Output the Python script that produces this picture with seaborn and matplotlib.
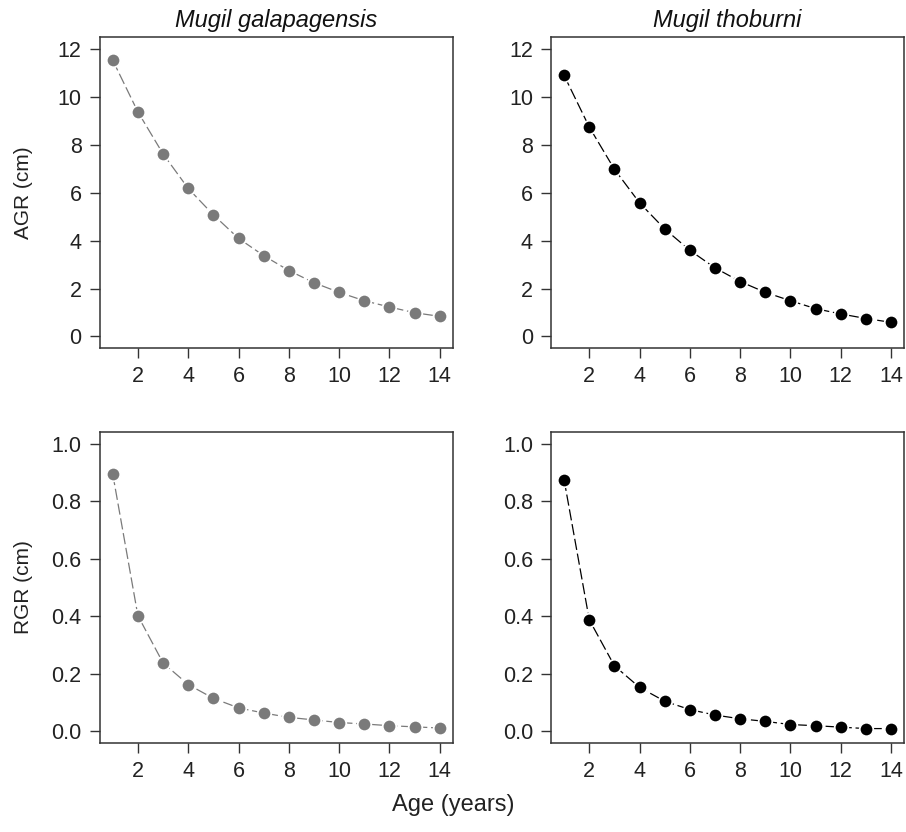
import numpy as np
import pandas as pd
import seaborn as sns
import matplotlib
matplotlib.use("Agg")
import matplotlib.pyplot as plt

# ages (years)
age = list(range(1, 15))

# absolute growth rate (cm)
agr_galapagensis = [11.51, 9.36, 7.61, 6.17, 5.07, 4.09, 3.37, 2.75, 2.24, 1.84, 1.49, 1.23, 0.99, 0.84]
agr_thoburni = [10.88, 8.73, 6.97, 5.57, 4.48, 3.59, 2.86, 2.29, 1.84, 1.49, 1.16, 0.94, 0.75, 0.59]

# relative growth rate
rgr_galapagensis = [0.894, 0.402, 0.238, 0.163, 0.115, 0.082, 0.064, 0.049, 0.040, 0.031, 0.026, 0.020, 0.016, 0.012]
rgr_thoburni = [0.874, 0.388, 0.228, 0.153, 0.105, 0.076, 0.057, 0.044, 0.035, 0.024, 0.020, 0.015, 0.010, 0.010]

species = ["Mugil galapagensis", "Mugil thoburni"]
colors = {"Mugil galapagensis": "#7a7a7a", "Mugil thoburni": "#000000"}

sns.set_theme(style="ticks")
plt.rcParams["font.family"] = ["Liberation Sans", "DejaVu Sans"]

fig, axes = plt.subplots(2, 2, figsize=(9.06, 8.32), dpi=100)
fig.subplots_adjust(left=0.110, right=0.998, top=0.9555, bottom=0.107,
                    wspace=0.278, hspace=0.270)

panels = [
    (0, 0, agr_galapagensis, species[0], "AGR (cm)"),
    (0, 1, agr_thoburni, species[1], None),
    (1, 0, rgr_galapagensis, species[0], "RGR (cm)"),
    (1, 1, rgr_thoburni, species[1], None),
]

for row, col, values, sp, ylab in panels:
    ax = axes[row, col]
    df = pd.DataFrame({"Age": age, "Rate": values})
    c = colors[sp]
    sns.lineplot(data=df, x="Age", y="Rate", ax=ax, color=c, linewidth=0.9,
                 zorder=2)
    ax.lines[-1].set_dashes((9, 3))
    sns.scatterplot(data=df, x="Age", y="Rate", ax=ax, color=c, s=95,
                    edgecolor="white", linewidth=1.3, zorder=3)
    ax.set_xlim(0.48, 14.52)
    ax.set_xticks(range(2, 15, 2))
    if row == 0:
        ax.set_ylim(-0.48, 12.48)
        ax.set_yticks(range(0, 13, 2))
        ax.set_title(sp, fontsize=17, style="italic", pad=7, color="#111111")
    else:
        ax.set_ylim(-0.04, 1.04)
        ax.set_yticks(np.arange(0, 1.01, 0.2))
        ax.set_yticklabels([f"{v:.1f}" for v in np.arange(0, 1.01, 0.2)])
    ax.set_xlabel("")
    ax.set_ylabel(ylab if ylab else "", fontsize=15, color="#222222")
    ax.yaxis.set_label_coords(-0.19, 0.5)
    ax.tick_params(axis="both", direction="out", length=7, width=1,
                   labelsize=15.5, colors="#333333", labelcolor="#222222", pad=6)
    for spine in ax.spines.values():
        spine.set_visible(True)
        spine.set_color("#333333")
        spine.set_linewidth(1.1)

fig.text(0.5, 0.033, "Age (years)", ha="center", va="center", fontsize=17, color="#222222")

fig.savefig("out.png", dpi=100, facecolor="white")
